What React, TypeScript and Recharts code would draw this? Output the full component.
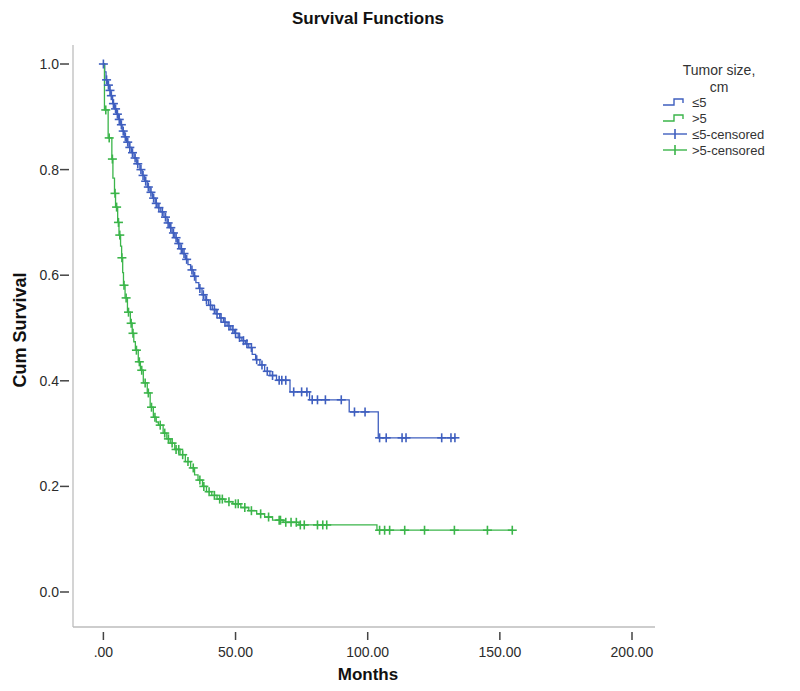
import React from 'react'
import { ComposedChart, Line, Scatter, XAxis, YAxis } from 'recharts'

// Kaplan-Meier steps: [months, cumulative survival]
const smallTumorSteps: [number, number][] = [
  [0, 1.0], [0.5, 0.985], [1.0, 0.97], [1.6, 0.96], [2.2, 0.95], [2.8, 0.94], [3.5, 0.925],
  [4.2, 0.915], [5.0, 0.905], [5.7, 0.895], [6.4, 0.885], [7.1, 0.873], [7.9, 0.862],
  [8.8, 0.852], [9.7, 0.842], [10.6, 0.832], [11.6, 0.822], [12.6, 0.811], [13.8, 0.8],
  [14.7, 0.789], [15.6, 0.778], [16.6, 0.767], [17.6, 0.757], [18.6, 0.746], [19.6, 0.736],
  [20.6, 0.728], [21.7, 0.72], [22.9, 0.71], [24.1, 0.699], [25.0, 0.69], [26.0, 0.68],
  [27.0, 0.671], [28.0, 0.66], [29.0, 0.65], [30.0, 0.641], [31.0, 0.63], [32.0, 0.62],
  [33.0, 0.61], [34.0, 0.598], [35.0, 0.586], [36.1, 0.575], [37.3, 0.563], [38.5, 0.553],
  [39.8, 0.543], [41.2, 0.535], [42.6, 0.527], [44.0, 0.519], [45.4, 0.511], [46.8, 0.504],
  [48.2, 0.497], [49.6, 0.49], [51.0, 0.482], [52.4, 0.476], [53.7, 0.47], [55.0, 0.463],
  [56.3, 0.45], [57.6, 0.44], [59.2, 0.43], [61.0, 0.418], [63.0, 0.41], [65.5, 0.401],
  [70.6, 0.379], [78.0, 0.364], [93.0, 0.341], [104.0, 0.292], [133.0, 0.292],
]

const largeTumorSteps: [number, number][] = [
  [0, 1.0], [0.4, 0.913], [1.8, 0.86], [3.2, 0.82], [3.6, 0.784], [4.2, 0.755], [4.6, 0.729],
  [5.4, 0.7], [5.9, 0.676], [6.5, 0.655], [6.9, 0.633], [7.3, 0.605], [7.6, 0.581],
  [8.2, 0.557], [9.1, 0.53], [10.2, 0.509], [10.9, 0.49], [11.5, 0.474], [12.1, 0.458],
  [13.2, 0.436], [14.0, 0.42], [15.1, 0.396], [16.6, 0.377], [17.7, 0.35], [18.9, 0.331],
  [20.0, 0.322], [20.8, 0.316], [22.6, 0.301], [24.0, 0.29], [25.3, 0.282], [27.0, 0.27],
  [29.0, 0.26], [31.0, 0.247], [33.0, 0.235], [34.5, 0.222], [35.8, 0.212], [37.5, 0.2],
  [39.0, 0.19], [41.0, 0.183], [43.0, 0.176], [46.0, 0.171], [49.0, 0.167], [52.0, 0.16],
  [55.0, 0.154], [58.0, 0.148], [61.0, 0.142], [64.0, 0.136], [68.0, 0.132], [74.0, 0.127],
  [103.5, 0.117], [155.0, 0.117],
]

// censored observation times (months)
const smallTumorCensored = [
  0, 1.2, 1.9, 2.5, 3.0, 3.8, 4.6, 5.3, 6.0, 6.8, 7.5, 8.3, 9.2, 10.0, 11.0, 12.0, 13.0, 14.2,
  15.0, 16.0, 17.0, 18.0, 19.0, 20.0, 21.0, 22.3, 23.5, 24.5, 25.5, 26.5, 27.5, 28.5, 29.5,
  30.5, 31.5, 33.5, 34.5, 36.5, 37.8, 39.0, 40.5, 42.0, 43.0, 44.5, 46.0, 47.5, 49.0, 50.0,
  51.5, 53.0, 54.3, 56.0, 58.0, 60.0, 62.0, 64.0, 66.5, 67.5, 69, 72, 75, 77, 79, 81, 84, 90,
  95, 99, 104.5, 107, 113, 114.5, 128, 131.5, 133,
]

const largeTumorCensored = [
  0.9, 2.2, 3.4, 4.4, 5.0, 5.7, 6.2, 7.0, 7.8, 8.6, 9.5, 10.5, 11.2, 12.5, 13.6, 14.5, 15.8,
  17.0, 18.2, 19.5, 21.5, 23.2, 24.6, 26, 27.5, 28.5, 30, 32, 34, 36.5, 38, 40, 42, 44, 45,
  47.5, 50, 51, 53.5, 56, 59.5, 62.5, 66.5, 67, 69, 71, 73, 74.5, 76, 81, 83, 84.5, 104.5,
  106.4, 108.3, 114, 121.5, 132.8, 145.3, 154.7,
]

const xTicks = [0, 50, 100, 150, 200]
const yTicks = [0, 0.2, 0.4, 0.6, 0.8, 1.0]

const BLUE = '#3f5fbf'
const GREEN = '#3bb54a'
const FONT = 'Arial, "Liberation Sans", sans-serif'

const survAt = (steps: [number, number][], t: number) => {
  let s = steps[0][1]
  for (const [tt, ss] of steps) if (tt <= t) s = ss
  return s
}

const toRows = (steps: [number, number][]) => steps.map(([t, s]) => ({ t, s }))
const censoredRows = (steps: [number, number][], times: number[]) =>
  times.map((t) => ({ t, s: survAt(steps, t) }))

const Cross = (color: string) => (props: any) => {
  const { cx, cy } = props
  if (cx == null || cy == null) return null
  return (
    <g stroke={color} strokeWidth={1.6}>
      <line x1={cx - 4.5} y1={cy} x2={cx + 4.5} y2={cy} />
      <line x1={cx} y1={cy - 4.5} x2={cx} y2={cy + 4.5} />
    </g>
  )
}

const XTick = ({ x, y, payload }: any) => (
  <g>
    <line x1={x} y1={y + 3} x2={x} y2={y + 11} stroke="#444" strokeWidth={1.5} />
    <text x={x} y={y + 28} textAnchor="middle" fontSize={14} fill="#2b2b2b" fontFamily={FONT}>
      {payload.value === 0 ? '.00' : payload.value.toFixed(2)}
    </text>
  </g>
)

const YTick = ({ x, y, payload }: any) => (
  <g>
    <line x1={x - 11} y1={y} x2={x - 2} y2={y} stroke="#444" strokeWidth={1.5} />
    <text x={x - 12} y={y + 5} textAnchor="end" fontSize={14} fill="#2b2b2b" fontFamily={FONT}>
      {payload.value.toFixed(1)}
    </text>
  </g>
)

const StepIcon = ({ color }: { color: string }) => (
  <svg width={28} height={12}>
    <path d="M2 9 H13 V3 H22 V7" fill="none" stroke={color} strokeWidth={1.4} />
  </svg>
)

const CrossIcon = ({ color }: { color: string }) => (
  <svg width={28} height={12}>
    <line x1={2} y1={6} x2={26} y2={6} stroke={color} strokeWidth={1.4} />
    <line x1={14} y1={1} x2={14} y2={11} stroke={color} strokeWidth={1.6} />
  </svg>
)

const legendItems = [
  { label: '≤5', color: BLUE, icon: 'step' },
  { label: '>5', color: GREEN, icon: 'step' },
  { label: '≤5-censored', color: BLUE, icon: 'cross' },
  { label: '>5-censored', color: GREEN, icon: 'cross' },
]

export default function App() {
  return (
    <div style={{ position: 'absolute', left: 0, top: 0, width: 800, height: 691, background: '#fff', fontFamily: FONT }}>
      <div style={{ position: 'absolute', left: 0, width: 736, top: 9, textAlign: 'center', fontSize: 17, fontWeight: 'bold', color: '#111' }}>
        Survival Functions
      </div>
      <div style={{ position: 'absolute', left: 0, width: 736, top: 665, textAlign: 'center', fontSize: 17, fontWeight: 'bold', color: '#111' }}>
        Months
      </div>
      <div style={{ position: 'absolute', left: 20, top: 330, transform: 'translate(-50%, -50%) rotate(-90deg)', fontSize: 18, fontWeight: 'bold', color: '#111', whiteSpace: 'nowrap' }}>
        Cum Survival
      </div>
      <div style={{ position: 'absolute', left: 660, top: 62, width: 118, textAlign: 'center', fontSize: 14, color: '#333', lineHeight: '17px' }}>
        Tumor size,<br />cm
      </div>
      <div style={{ position: 'absolute', left: 661, top: 94, fontSize: 13, color: '#333' }}>
        {legendItems.map((it) => (
          <div key={it.label} style={{ display: 'flex', alignItems: 'center', height: 16 }}>
            {it.icon === 'step' ? <StepIcon color={it.color} /> : <CrossIcon color={it.color} />}
            <span style={{ marginLeft: 3 }}>{it.label}</span>
          </div>
        ))}
      </div>
      <div style={{ position: 'absolute', left: 0, top: 0 }}>
        <ComposedChart width={800} height={691} margin={{ top: 45, right: 145, bottom: 0, left: 0 }}>
          <XAxis
            type="number" dataKey="t" domain={[-11.5, 208.7]} ticks={xTicks} allowDataOverflow
            height={64} axisLine={{ stroke: '#bdbdbd', strokeWidth: 1.3 }} tickLine={false}
            tickSize={0} tick={<XTick />} interval={0}
          />
          <YAxis
            type="number" dataKey="s" domain={[-0.0663, 1.036]} ticks={yTicks} allowDataOverflow
            width={73} axisLine={{ stroke: '#bdbdbd', strokeWidth: 1.3 }} tickLine={false}
            tickSize={0} tick={<YTick />} interval={0}
          />
          <Line data={toRows(smallTumorSteps)} dataKey="s" type="stepAfter" stroke={BLUE} strokeWidth={1.3} dot={false} isAnimationActive={false} />
          <Line data={toRows(largeTumorSteps)} dataKey="s" type="stepAfter" stroke={GREEN} strokeWidth={1.3} dot={false} isAnimationActive={false} />
          <Scatter data={censoredRows(smallTumorSteps, smallTumorCensored)} dataKey="s" shape={Cross(BLUE)} isAnimationActive={false} />
          <Scatter data={censoredRows(largeTumorSteps, largeTumorCensored)} dataKey="s" shape={Cross(GREEN)} isAnimationActive={false} />
        </ComposedChart>
      </div>
    </div>
  )
}
